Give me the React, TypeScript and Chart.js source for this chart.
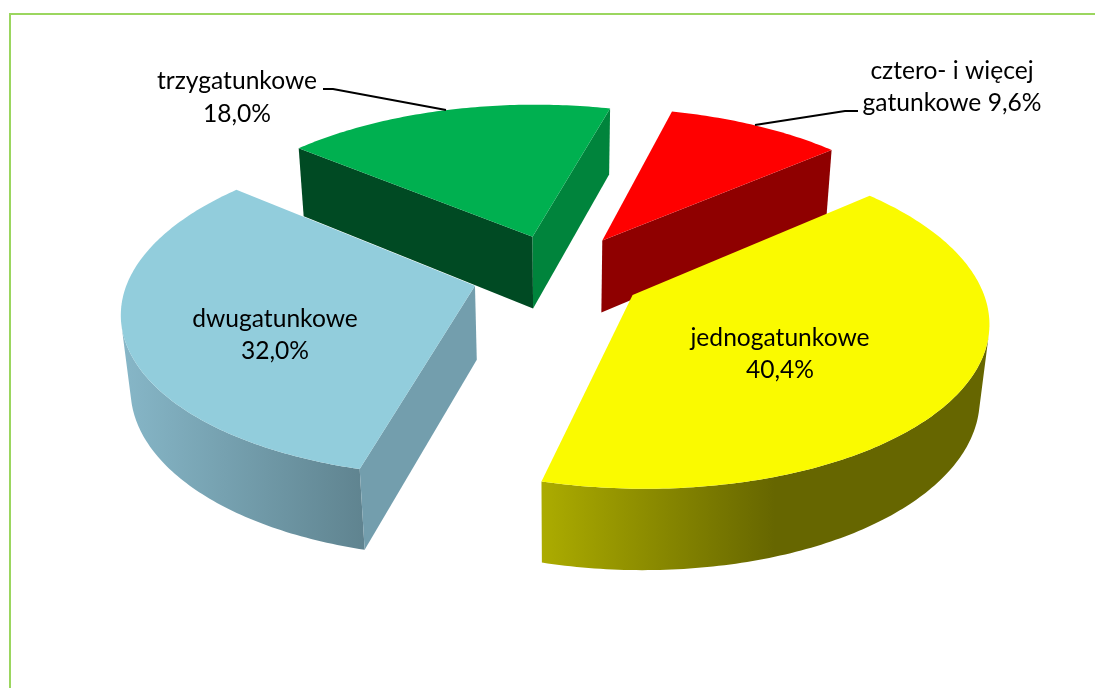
import React, { useEffect, useRef } from "react";
import { Chart, registerables } from "chart.js";

Chart.register(...registerables);

// ---- data ----
const categories = ["jednogatunkowe", "dwugatunkowe", "trzygatunkowe", "cztero- i więcej gatunkowe"];
const shares = [40.4, 32.0, 18.0, 9.6];
const topColors = ["#FAFA00", "#92CDDC", "#00B050", "#FF0000"];

// ---- styling of the 3D faces ----
const faceColors = ["#6A6A00", "#739EAD", "#00843C", "#8F0000"];
const startFaceColors = ["#6A6A00", "#739EAD", "#004A23", "#8F0000"];
const wallStops: [number, number, string][][] = [
  [[544, 0, "#ABAB00"], [775, 1, "#666600"]],
  [[125, 0, "#86B6C7"], [366, 1, "#5F838F"]],
  [[300, 0, "#00843C"], [610, 1, "#00843C"]],
  [[600, 0, "#8F0000"], [830, 1, "#8F0000"]],
];
const labelLayout = [
  { x: 780, lines: [346, 378], text: (c: string, v: string) => [c, v] },
  { x: 275, lines: [327, 359], text: (c: string, v: string) => [c, v] },
  { x: 237, lines: [89, 122], text: (c: string, v: string) => [c, v] },
  { x: 952, lines: [79, 111], text: (_c: string, v: string) => ["cztero- i więcej", "gatunkowe " + v] },
];
const leaders = [
  [[323, 89], [333, 89], [446, 110]],
  [[858, 111], [845, 111], [755, 125]],
];

// ---- perspective projection of the exploded pie ----
const CX = 558, CY = 273.5, SX = 345, SY = 160, PERSP = 0.14, DEPTH = 75, DEPTH_PERSP = 0.022, EXPLODE = 0.25;

function project(x: number, y: number, z: number): [number, number] {
  const w = 1 - PERSP * y + DEPTH_PERSP * z;
  return [CX + (SX * x) / w, CY + (SY * y + DEPTH * z) / w];
}

function area(p: [number, number][]) {
  let s = 0;
  for (let i = 0; i < p.length; i++) {
    const a = p[i], b = p[(i + 1) % p.length];
    s += a[0] * b[1] - b[0] * a[1];
  }
  return s;
}

function fillPoly(ctx: CanvasRenderingContext2D, p: [number, number][], fill: any) {
  ctx.beginPath();
  p.forEach((q, i) => (i ? ctx.lineTo(q[0], q[1]) : ctx.moveTo(q[0], q[1])));
  ctx.closePath();
  ctx.fillStyle = fill;
  ctx.fill();
}

const pie3d = {
  id: "pie3d",
  beforeDatasetsDraw(chart: any) {
    const ctx: CanvasRenderingContext2D = chart.ctx;
    const arcs = chart.getDatasetMeta(0).data;
    const slices = arcs.map((arc: any, i: number) => {
      const mid = (arc.startAngle + arc.endAngle) / 2;
      return { i, s: arc.startAngle, e: arc.endAngle, ax: EXPLODE * Math.cos(mid), ay: EXPLODE * Math.sin(mid) };
    });
    slices.sort((a: any, b: any) => a.ay - b.ay);

    for (const sl of slices) {
      const n = Math.max(8, Math.ceil((sl.e - sl.s) / 0.015));
      const rim = (t: number, z: number) => {
        const a = sl.s + ((sl.e - sl.s) * t) / n;
        return project(sl.ax + Math.cos(a), sl.ay + Math.sin(a), z);
      };
      const stops = wallStops[sl.i];
      const grad = ctx.createLinearGradient(stops[0][0], 0, stops[1][0], 0);
      stops.forEach((st) => grad.addColorStop(st[1], st[2]));

      // outer wall: one polygon per contiguous run of camera-facing strips
      let t = 0;
      while (t < n) {
        const facing = (u: number) => area([rim(u, 0), rim(u + 1, 0), rim(u + 1, 1), rim(u, 1)]) < 0;
        if (!facing(t)) {
          t++;
          continue;
        }
        let end = t;
        while (end < n && facing(end)) end++;
        const poly: [number, number][] = [];
        for (let u = t; u <= end; u++) poly.push(rim(u, 0));
        for (let u = end; u >= t; u--) poly.push(rim(u, 1));
        fillPoly(ctx, poly, grad);
        t = end;
      }
      // radial walls
      const a0 = project(sl.ax, sl.ay, 0);
      const a1 = project(sl.ax, sl.ay, 1);
      const startFace: [number, number][] = [a0, rim(0, 0), rim(0, 1), a1];
      if (area(startFace) < 0) fillPoly(ctx, startFace, startFaceColors[sl.i]);
      const endFace: [number, number][] = [a0, rim(n, 0), rim(n, 1), a1];
      if (area(endFace) > 0) fillPoly(ctx, endFace, faceColors[sl.i]);
      // top face
      const top: [number, number][] = [a0];
      for (let u = 0; u <= n; u++) top.push(rim(u, 0));
      fillPoly(ctx, top, chart.data.datasets[0].backgroundColor[sl.i]);
    }
    return false;
  },
  afterDraw(chart: any) {
    const ctx: CanvasRenderingContext2D = chart.ctx;
    ctx.save();
    ctx.strokeStyle = "#000";
    ctx.lineWidth = 2;
    for (const l of leaders) {
      ctx.beginPath();
      l.forEach((p, i) => (i ? ctx.lineTo(p[0], p[1]) : ctx.moveTo(p[0], p[1])));
      ctx.stroke();
    }
    ctx.fillStyle = "#000";
    ctx.textAlign = "center";
    ctx.textBaseline = "alphabetic";
    ctx.font = '24.6px Lato, "Open Sans", sans-serif';
    labelLayout.forEach((lay, i) => {
      const v = shares[i].toFixed(1).replace(".", ",") + "%";
      lay.text(categories[i], v).forEach((s, k) => ctx.fillText(s, lay.x, lay.lines[k]));
    });
    ctx.restore();
  },
};

export default function App() {
  const ref = useRef<HTMLCanvasElement>(null);
  useEffect(() => {
    const chart = new Chart(ref.current!, {
      type: "pie",
      data: {
        labels: categories,
        datasets: [{ data: shares, backgroundColor: topColors, borderWidth: 0 }],
      },
      options: {
        responsive: false,
        animation: false,
        rotation: 49.2,
        events: [],
        plugins: { legend: { display: false }, tooltip: { enabled: false } },
      },
      plugins: [pie3d],
    } as any);
    return () => chart.destroy();
  }, []);
  return (
    <div style={{ position: "fixed", inset: 0, overflow: "hidden", background: "#fff" }}>
      <canvas ref={ref} width={1095} height={688} style={{ position: "absolute", left: 0, top: 0, display: "block" }} />
      <div
        style={{
          position: "absolute",
          left: 9,
          top: 13,
          width: 1300,
          height: 900,
          border: "2px solid #9BD65F",
          boxSizing: "border-box",
          pointerEvents: "none",
        }}
      />
    </div>
  );
}
